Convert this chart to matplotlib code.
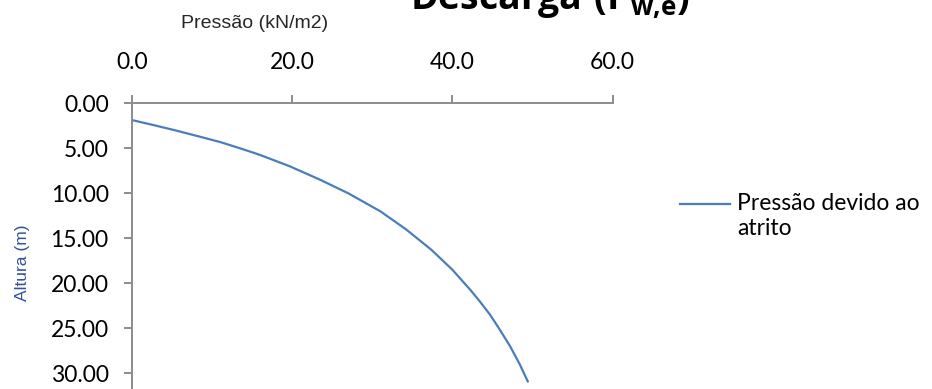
import matplotlib
matplotlib.use("Agg")
import matplotlib.pyplot as plt
from matplotlib.ticker import FormatStrFormatter
from matplotlib.transforms import ScaledTranslation

# Data
depth = [1.86, 2.4, 3.0, 3.6, 4.3, 5.0, 5.74, 7.0, 8.5, 10.0, 12.0, 14.0,
         16.3, 18.5, 20.7, 22.0, 23.5, 25.0, 27.0, 29.0, 30.9]
pressure = [0.0, 2.6, 5.4, 8.0, 11.0, 13.5, 16.0, 19.7, 23.5, 27.0, 31.0, 34.2,
            37.4, 40.0, 42.2, 43.4, 44.7, 45.8, 47.2, 48.4, 49.4]
x_ticks = [0, 20, 40, 60]
y_ticks = [0, 5, 10, 15, 20, 25, 30]
series_label = "Pressão devido ao\natrito"
x_label = "Pressão (kN/m2)"
y_label = "Altura (m)"
title = r"$\mathbf{Descarga\ (P_{w{,}e})}$"

plt.rcParams['mathtext.fontset'] = 'custom'
plt.rcParams['mathtext.bf'] = 'Open Sans:bold'
plt.rcParams['mathtext.rm'] = 'Open Sans'

fig = plt.figure(figsize=(9.32, 3.89), dpi=100)
ax = fig.add_axes([0.1416, -0.0753, 0.5158, 0.8097])

line_color = '#4a7ebb'
spine_color = '#8c8c8c'

ax.plot(pressure, depth, color=line_color, lw=1.6, label=series_label)

ax.set_xlim(0, 60)
ax.set_ylim(35, 0)
ax.set_xticks(x_ticks)
ax.set_yticks(y_ticks)
ax.xaxis.set_major_formatter(FormatStrFormatter('%.1f'))
ax.yaxis.set_major_formatter(FormatStrFormatter('%.2f'))
ax.xaxis.tick_top()

for s in ['right', 'bottom']:
    ax.spines[s].set_visible(False)
for s in ['top', 'left']:
    ax.spines[s].set_color(spine_color)
    ax.spines[s].set_linewidth(1.4)

ax.tick_params(axis='x', which='major', direction='out', length=5.8, width=1.4,
               color=spine_color, pad=16, labelsize=16.5, labelcolor='#000000')
ax.tick_params(axis='y', which='major', direction='out', length=5.8, width=1.4,
               color=spine_color, pad=11, labelsize=16.5, labelcolor='#000000')
for lab in ax.get_xticklabels() + ax.get_yticklabels():
    lab.set_fontfamily('Lato')

ax.xaxis.set_label_position('top')
ax.set_xlabel(x_label, fontsize=14, family='Liberation Sans', color='#262626')
ax.xaxis.label.set_verticalalignment('center')
ax.xaxis.set_label_coords(0.254, 1.252)

ax.set_ylabel(y_label, fontsize=12.5, family='Liberation Sans', color='#34509a')
ax.yaxis.label.set_verticalalignment('center')
ax.yaxis.set_label_coords(-0.228, 0.493)

leg = ax.legend(loc='upper left', bbox_to_anchor=(680 / 932, 1 - 193 / 389),
                bbox_transform=fig.transFigure, frameon=False,
                prop={'family': 'Lato', 'size': 16.5}, handlelength=2.2,
                handletextpad=0.3, borderpad=0, borderaxespad=0,
                labelspacing=0.3)
for t in leg.get_texts():
    t.set_linespacing(1.25)
for h in leg.legend_handles:
    h.set_transform(h.get_transform() + ScaledTranslation(0, 0.13, fig.dpi_scale_trans))

fig.text(410 / 932, 1 - 9 / 389, title,
         fontsize=27, ha='left', va='baseline', color='black')

fig.savefig('out.png', dpi=100)
